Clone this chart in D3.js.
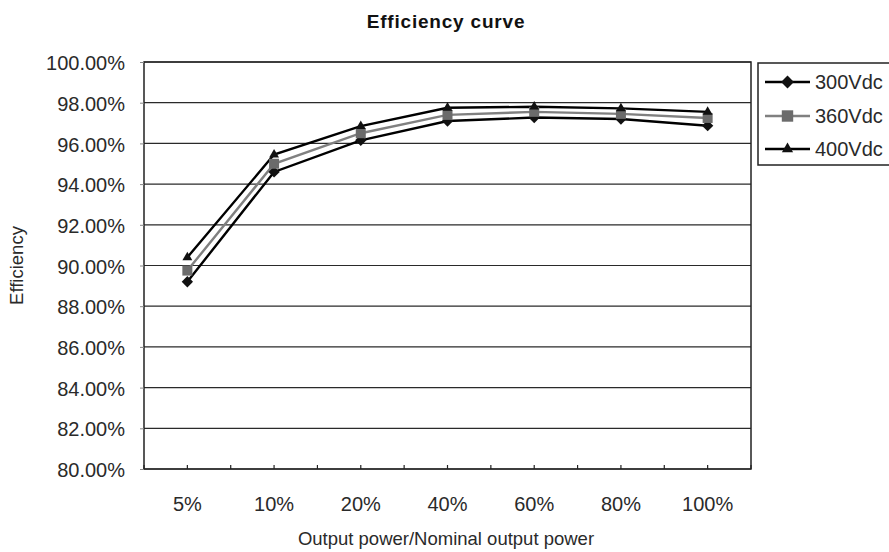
<!DOCTYPE html>
<html>
<head>
<meta charset="utf-8">
<script src="https://cdn.jsdelivr.net/npm/d3@7"></script>
<style>
  html, body { margin: 0; padding: 0; background: #fff; }
  svg { display: block; font-family: "Liberation Sans", Arial, sans-serif; }
</style>
</head>
<body>
<svg id="chart" width="889" height="552"></svg>
<script>
// ---- data ----
const categories = ["5%", "10%", "20%", "40%", "60%", "80%", "100%"];
const seriesNames = ["300Vdc", "360Vdc", "400Vdc"];
const v300 = [89.2, 94.6, 96.15, 97.1, 97.27, 97.2, 96.87];
const v360 = [89.75, 95.0, 96.5, 97.4, 97.55, 97.45, 97.25];
const v400 = [90.4, 95.45, 96.85, 97.75, 97.8, 97.72, 97.55];
const yTicks = [80, 82, 84, 86, 88, 90, 92, 94, 96, 98, 100];
const titleText = "Efficiency curve";
const xTitleText = "Output power/Nominal output power";
const yTitleText = "Efficiency";

const seriesValues = [v300, v360, v400];
const seriesStyle = [
  { color: "#000", marker: d3.symbolSquare, msize: 64, rot: 45, mfill: "#111" },
  { color: "#808080", marker: d3.symbolSquare, msize: 100, rot: 0, mfill: "#6b6b6b" },
  { color: "#000", marker: d3.symbolTriangle, msize: 42, rot: 0, mfill: "#111" }
];

const svg = d3.select("#chart");
const plot = { left: 144, right: 751, top: 62, bottom: 469 };

const x = d3.scaleBand().domain(categories).range([plot.left, plot.right]).padding(0);
const y = d3.scaleLinear().domain([80, 100]).range([plot.bottom, plot.top]);
const cx = c => x(c) + x.bandwidth() / 2;

// gridlines
svg.append("g").selectAll("line").data(yTicks).join("line")
  .attr("x1", plot.left).attr("x2", plot.right)
  .attr("y1", d => y(d)).attr("y2", d => y(d))
  .attr("stroke", "#2a2a2a").attr("stroke-width", 1.2);

// plot border
svg.append("rect")
  .attr("x", plot.left).attr("y", plot.top)
  .attr("width", plot.right - plot.left).attr("height", plot.bottom - plot.top)
  .attr("fill", "none").attr("stroke", "#222").attr("stroke-width", 1.5);

// y axis labels + ticks
const yAxis = d3.axisLeft(y).tickValues(yTicks).tickSize(4).tickPadding(15)
  .tickFormat(d => d.toFixed(2) + "%");
const yg = svg.append("g").attr("transform", `translate(${plot.left},0)`).call(yAxis);
yg.select(".domain").remove();
yg.selectAll(".tick line").attr("stroke", "#888");
yg.selectAll("text").attr("font-size", 20).attr("fill", "#2a2a2a")
  .attr("font-family", "'Liberation Sans', Arial, sans-serif").attr("dy", "0.38em");

// x axis ticks (inside, at centres and boundaries)
const halfTicks = [];
categories.forEach(c => { halfTicks.push(x(c)); halfTicks.push(cx(c)); });
halfTicks.push(plot.right);
svg.append("g").selectAll("line").data(halfTicks).join("line")
  .attr("x1", d => d).attr("x2", d => d)
  .attr("y1", plot.bottom).attr("y2", plot.bottom - 4)
  .attr("stroke", "#222").attr("stroke-width", 1.2);

// x labels
const xAxis = d3.axisBottom(x).tickSize(0).tickPadding(0);
const xg = svg.append("g").attr("transform", `translate(0,${plot.bottom})`).call(xAxis);
xg.select(".domain").remove();
xg.selectAll("text").attr("font-size", 20).attr("fill", "#2a2a2a")
  .attr("font-family", "'Liberation Sans', Arial, sans-serif")
  .attr("dy", null).attr("y", 42);

// lines
const line = d3.line().x((d, i) => cx(categories[i])).y(d => y(d));
seriesValues.forEach((vals, si) => {
  const st = seriesStyle[si];
  svg.append("path").datum(vals)
    .attr("d", line).attr("fill", "none")
    .attr("stroke", st.color).attr("stroke-width", 2.4);
});
seriesValues.forEach((vals, si) => {
  const st = seriesStyle[si];
  svg.append("g").selectAll("path").data(vals).join("path")
    .attr("transform", (d, i) => `translate(${cx(categories[i])},${y(d)}) rotate(${st.rot})`)
    .attr("d", d3.symbol().type(st.marker).size(st.msize))
    .attr("fill", st.mfill);
});

// title
svg.append("text").attr("x", 446).attr("y", 28).attr("text-anchor", "middle")
  .attr("font-size", 19).attr("font-weight", "bold").attr("letter-spacing", 0.8)
  .attr("fill", "#111").text(titleText);

// x title
svg.append("text").attr("x", 446).attr("y", 545).attr("text-anchor", "middle")
  .attr("font-size", 18.5).attr("fill", "#2a2a2a").text(xTitleText);

// y title
svg.append("text").attr("transform", `translate(23,${(plot.top + plot.bottom) / 2}) rotate(-90)`)
  .attr("text-anchor", "middle").attr("font-size", 18.5).attr("fill", "#2a2a2a").text(yTitleText);

// legend
const lg = svg.append("g");
lg.append("rect").attr("x", 758).attr("y", 63).attr("width", 150).attr("height", 102)
  .attr("fill", "#fff").attr("stroke", "#222").attr("stroke-width", 1.5);
const legY = [82, 116, 149];
seriesNames.forEach((name, si) => {
  const st = seriesStyle[si];
  const yy = legY[si];
  lg.append("line").attr("x1", 765).attr("x2", 810).attr("y1", yy).attr("y2", yy)
    .attr("stroke", st.color).attr("stroke-width", 2.4);
  lg.append("path").attr("transform", `translate(787.5,${yy}) rotate(${st.rot})`)
    .attr("d", d3.symbol().type(st.marker).size(st.msize * 1.3)).attr("fill", st.mfill);
  lg.append("text").attr("x", 815).attr("y", yy).attr("dy", "0.36em")
    .attr("font-size", 20).attr("fill", "#2a2a2a").text(name);
});
</script>
</body>
</html>
